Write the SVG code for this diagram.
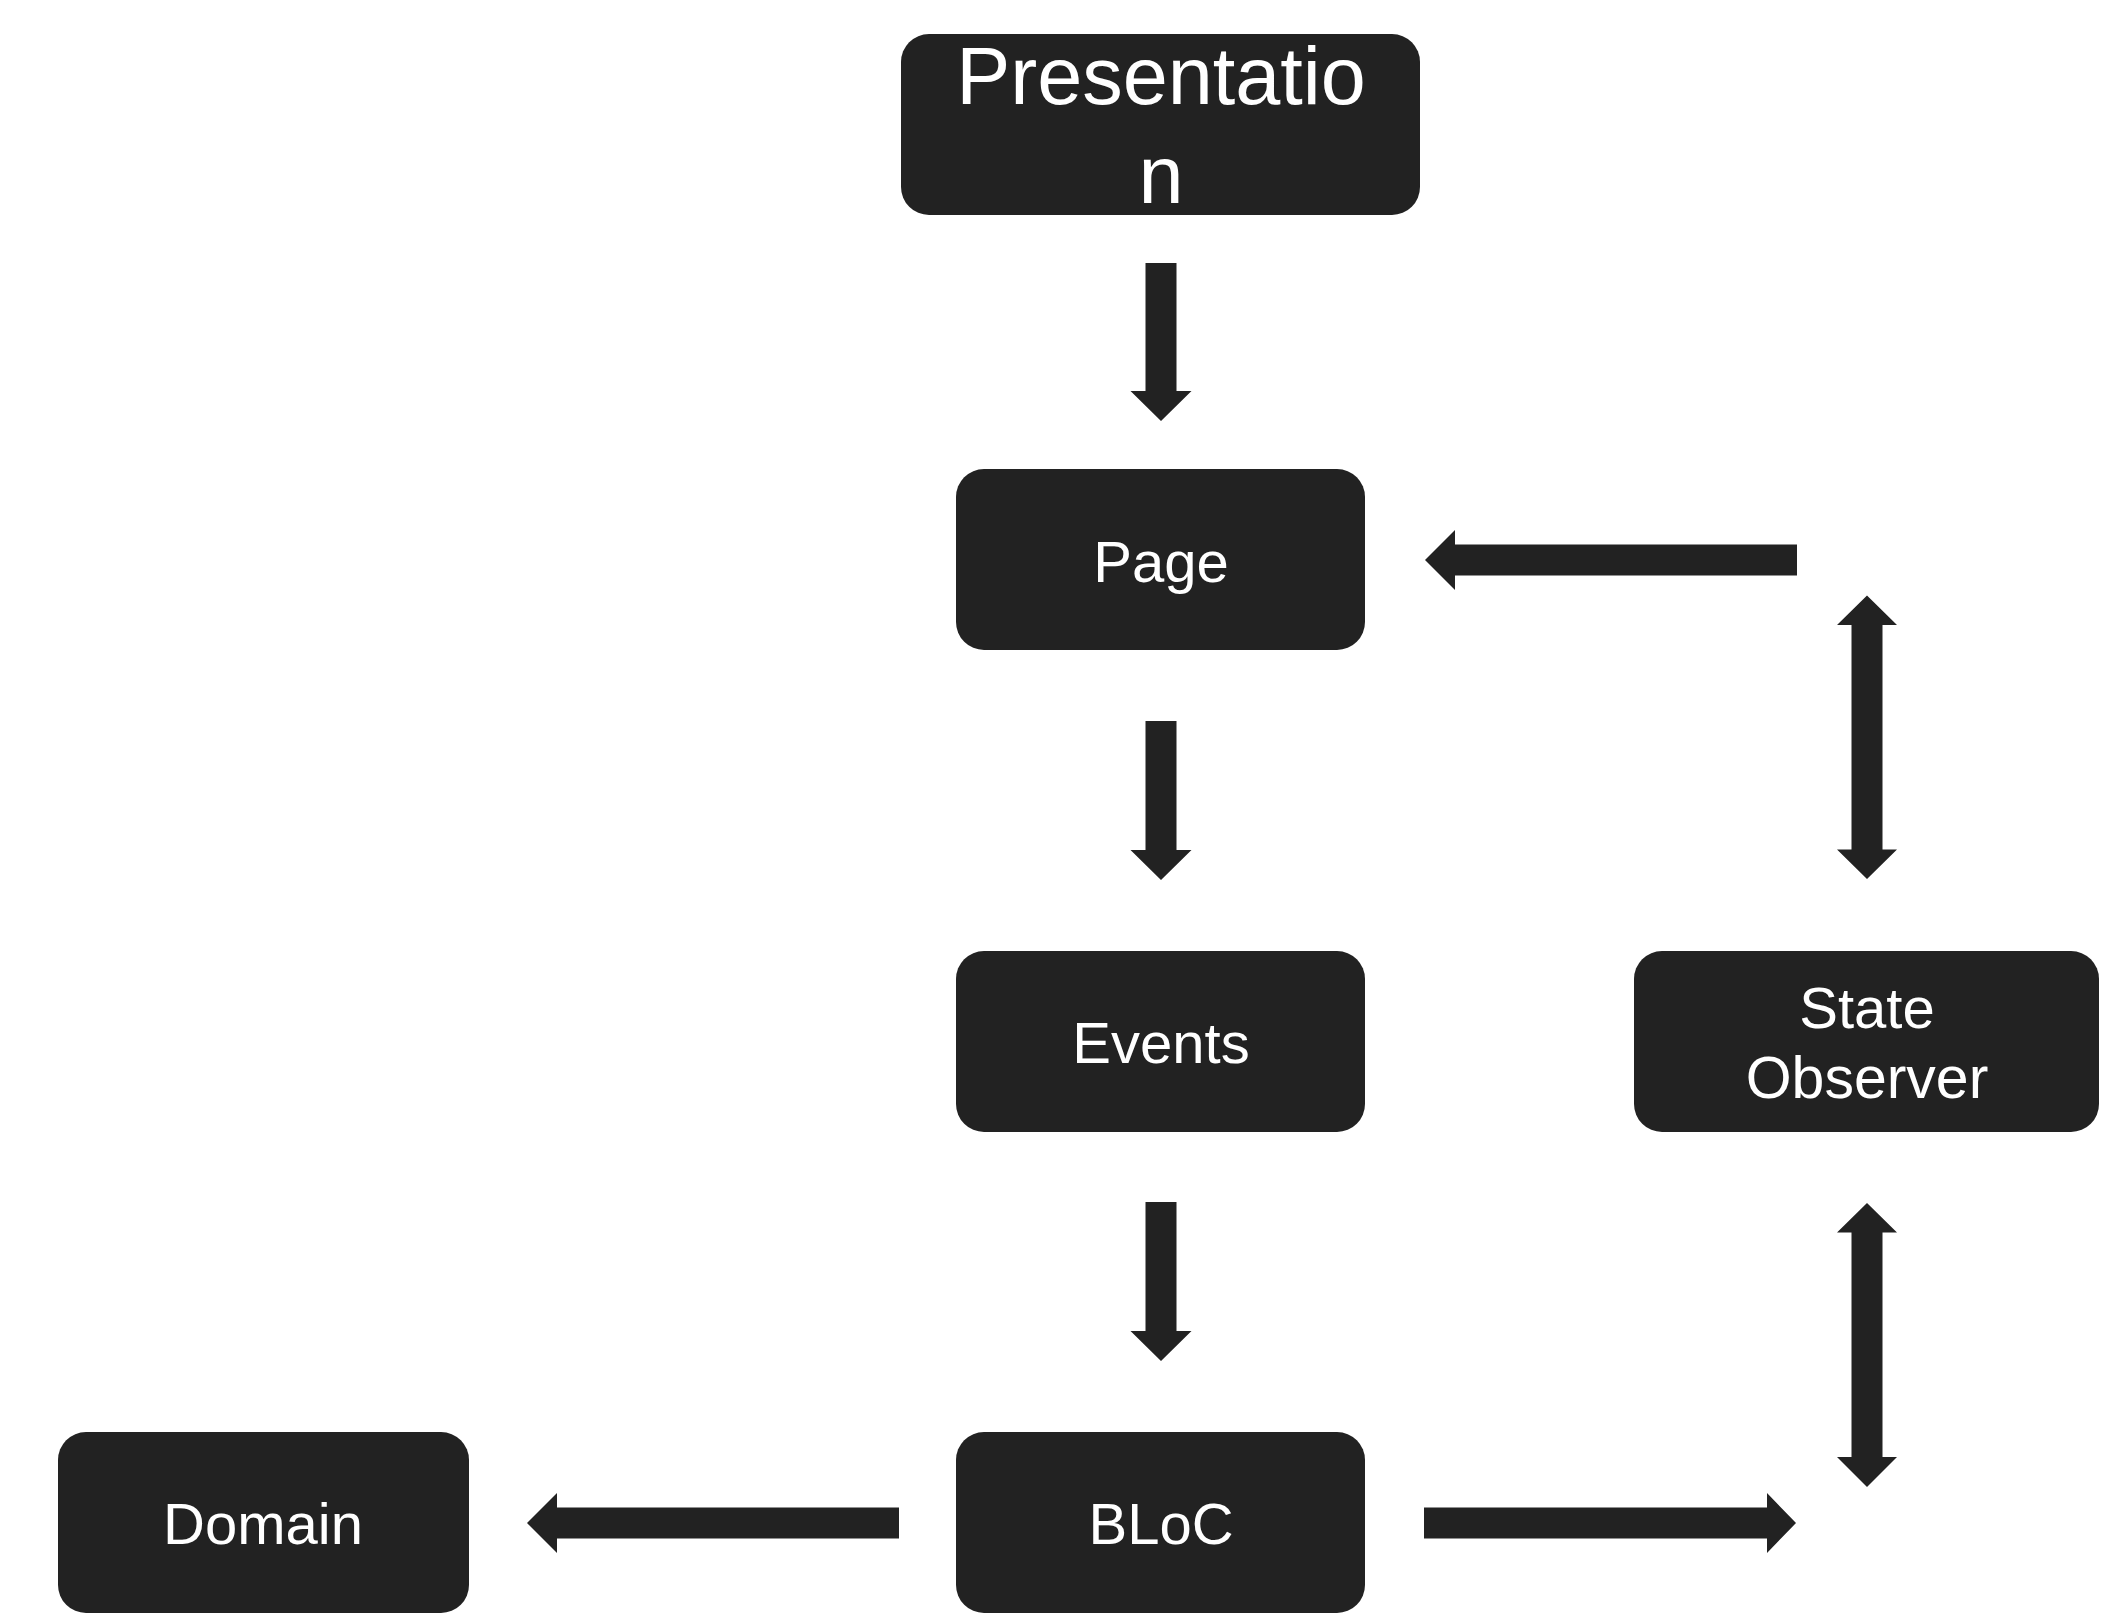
<svg xmlns="http://www.w3.org/2000/svg" width="2103" height="1616" viewBox="0 0 2103 1616">
<style>
.box{fill:#222222}
.lbl{fill:#ffffff;font-family:"Liberation Sans",Arial,sans-serif;font-size:58px;text-anchor:middle}
.big{font-size:81px}
.arr{fill:#222222}
</style>
<rect width="2103" height="1616" fill="#ffffff"/>
<g id="presentation">
<rect class="box" x="901" y="34" width="519" height="181" rx="28"/>
<text class="lbl big" x="1161" y="104">Presentatio</text>
<text class="lbl big" x="1161" y="203">n</text>
</g>
<g id="page">
<rect class="box" x="956" y="469" width="409" height="181" rx="28"/>
<text class="lbl" x="1161" y="582">Page</text>
</g>
<g id="events">
<rect class="box" x="956" y="951" width="409" height="181" rx="28"/>
<text class="lbl" x="1161" y="1063">Events</text>
</g>
<g id="bloc">
<rect class="box" x="956" y="1432" width="409" height="181" rx="28"/>
<text class="lbl" x="1161" y="1544">BLoC</text>
</g>
<g id="domain">
<rect class="box" x="58" y="1432" width="411" height="181" rx="28"/>
<text class="lbl" x="263" y="1544">Domain</text>
</g>
<g id="state-observer">
<rect class="box" x="1634" y="951" width="465" height="181" rx="28"/>
<text class="lbl" x="1867" y="1028">State</text>
<text class="lbl" x="1867" y="1098" style="font-size:59px">Observer</text>
</g>
<g id="connectors">
<polygon class="arr" points="1145.5,263 1176.5,263 1176.5,391 1191.5,391 1161,421 1130.5,391 1145.5,391"/>
<polygon class="arr" points="1145.5,721 1176.5,721 1176.5,850 1191.5,850 1161,880 1130.5,850 1145.5,850"/>
<polygon class="arr" points="1145.5,1202 1176.5,1202 1176.5,1331 1191.5,1331 1161,1361 1130.5,1331 1145.5,1331"/>
<polygon class="arr" points="1797,544.5 1797,575.5 1455,575.5 1455,590 1425,560 1455,530 1455,544.5"/>
<polygon class="arr" points="1867,595.5 1897,625 1882.5,625 1882.5,849.5 1897,849.5 1867,879 1837,849.5 1851.5,849.5 1851.5,625 1837,625"/>
<polygon class="arr" points="1867,1203 1897,1232.5 1882.5,1232.5 1882.5,1457 1897,1457 1867,1487 1837,1457 1851.5,1457 1851.5,1232.5 1837,1232.5"/>
<polygon class="arr" points="1424,1507.5 1767,1507.5 1767,1493 1796,1523 1767,1553 1767,1538.5 1424,1538.5"/>
<polygon class="arr" points="899,1507.5 899,1538.5 557,1538.5 557,1553 527,1523 557,1493 557,1507.5"/>
</g>
</svg>
